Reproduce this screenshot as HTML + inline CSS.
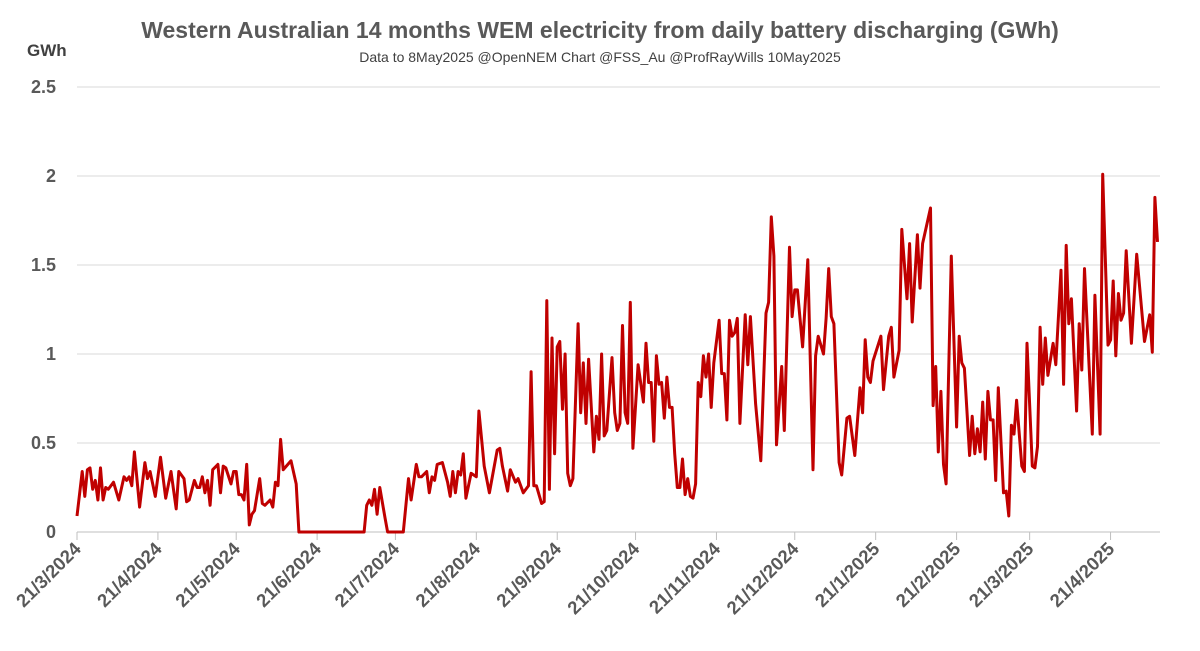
<!DOCTYPE html>
<html><head><meta charset="utf-8">
<style>
body{margin:0;background:#fff;width:1200px;height:646px;overflow:hidden;font-family:"Liberation Sans",sans-serif}
</style></head>
<body>
<svg width="1200" height="646" xmlns="http://www.w3.org/2000/svg">
<text x="600" y="38" text-anchor="middle" font-size="23" font-weight="bold" fill="#595959">Western Australian 14 months WEM electricity from daily battery discharging (GWh)</text>
<text x="600" y="62" text-anchor="middle" font-size="14" fill="#404040">Data to 8May2025  @OpenNEM Chart @FSS_Au @ProfRayWills 10May2025</text>
<text x="27" y="56" font-size="17" font-weight="bold" fill="#404040">GWh</text>
<g id="grid"></g><g id="yt"></g><g id="xt"></g><g id="ser"></g>
</svg>
<script>
const days=[0,2,3,4,5,6,7,8,9,10,11,12,14,16,18,19,20,21,22,24,26,27,28,30,32,34,36,38,39,41,42,43,45,46,47,48,49,50,51,52,54,55,56,57,59,60,61,62,63,64,65,66,67,68,70,71,72,74,75,76,77,78,79,82,84,85,110,111,112,113,114,115,116,118,119,125,127,128,130,131,132,134,135,136,137,138,140,142,143,144,145,146,147,148,149,151,153,154,156,158,161,162,163,165,166,168,169,171,173,174,175,176,178,179,180,181,182,183,184,185,186,187,188,189,190,192,193,194,195,196,198,199,200,201,202,203,205,206,207,208,209,210,211,212,213,215,217,218,219,220,221,222,223,224,225,226,227,228,229,230,231,232,233,234,235,236,237,238,239,240,241,242,243,244,246,247,248,249,250,251,252,253,254,256,257,258,260,262,264,265,266,267,268,270,271,273,274,275,276,278,280,282,283,284,286,287,288,289,290,292,293,295,296,298,300,301,302,303,304,305,308,309,311,312,313,315,316,318,319,320,322,323,324,327,328,329,330,331,332,333,335,337,338,339,340,342,343,344,345,346,347,348,349,350,351,352,353,355,356,357,358,359,360,362,363,364,366,367,368,369,370,371,372,374,375,377,378,379,380,381,383,384,385,386,389,390,392,393,395,396,397,398,399,400,401,402,404,406,409,411,412,413,414];
const values=[.09,.34,.20,.35,.36,.24,.29,.18,.36,.18,.25,.24,.28,.18,.31,.29,.31,.26,.45,.14,.39,.30,.34,.20,.42,.19,.34,.13,.34,.30,.17,.18,.29,.25,.25,.31,.22,.29,.15,.35,.38,.22,.37,.36,.27,.34,.34,.21,.21,.18,.38,.04,.10,.12,.30,.16,.15,.18,.14,.28,.26,.52,.35,.40,.27,0,0,.15,.18,.15,.24,.10,.25,.08,0,0,.30,.18,.38,.31,.31,.34,.22,.31,.29,.38,.39,.28,.20,.34,.22,.34,.32,.44,.19,.33,.31,.68,.37,.22,.46,.47,.37,.23,.35,.28,.30,.22,.26,.90,.26,.26,.16,.17,1.30,.24,1.09,.44,1.04,1.07,.69,1.00,.33,.26,.30,1.17,.67,.95,.61,.97,.45,.65,.52,1.00,.54,.57,.98,.67,.57,.61,1.16,.67,.61,1.29,.47,.94,.73,1.06,.84,.84,.51,.99,.83,.84,.64,.87,.70,.70,.44,.25,.25,.41,.21,.30,.20,.19,.27,.84,.76,.99,.87,1.00,.70,.95,1.19,.89,.89,.63,1.19,1.10,1.12,1.20,.61,1.22,.94,1.21,.72,.40,1.23,1.29,1.77,1.55,.49,.93,.57,1.60,1.21,1.36,1.36,1.04,1.53,.35,.99,1.10,1.00,1.20,1.48,1.21,1.17,.39,.32,.64,.65,.43,.81,.67,1.08,.87,.84,.96,1.10,.80,1.10,1.15,.87,1.02,1.70,1.31,1.62,1.18,1.67,1.37,1.62,1.82,.71,.93,.45,.79,.38,.27,1.55,.59,1.10,.95,.92,.43,.65,.44,.58,.45,.73,.41,.79,.63,.63,.29,.81,.22,.23,.09,.60,.55,.74,.37,.34,1.06,.37,.36,.48,1.15,.83,1.09,.88,1.06,.94,1.47,.83,1.61,1.17,1.31,.68,1.17,.91,1.48,.55,1.33,.55,2.01,1.05,1.08,1.41,.99,1.34,1.19,1.23,1.58,1.06,1.56,1.07,1.22,1.01,1.88,1.63];
const tickDays=[0,31,61,92,122,153,184,214,245,275,306,337,365,396];
const tickLabels=["21/3/2024","21/4/2024","21/5/2024","21/6/2024","21/7/2024","21/8/2024","21/9/2024","21/10/2024","21/11/2024","21/12/2024","21/1/2025","21/2/2025","21/3/2025","21/4/2025"];
const yTicks=[0,0.5,1,1.5,2,2.5];
const yLabels=["0","0.5","1","1.5","2","2.5"];
const NS="http://www.w3.org/2000/svg";
const X=d=>77+d*2.61, Y=v=>532-v*178;
function mk(t,a,p){const e=document.createElementNS(NS,t);for(const k in a)e.setAttribute(k,a[k]);p.appendChild(e);return e;}
const grid=document.getElementById('grid'),yt=document.getElementById('yt'),xt=document.getElementById('xt'),ser=document.getElementById('ser');
yTicks.forEach((v,i)=>{
 const l=mk('line',{x1:77,x2:1160,y1:Y(v),y2:Y(v),stroke:v===0?'#bfbfbf':'#d9d9d9','stroke-width':1},grid);
 
 
 const t=mk('text',{x:56,y:Y(v)+6,'text-anchor':'end','font-size':18,'font-weight':'bold',fill:'#595959'},yt);
 t.textContent=yLabels[i];
 
 
});
tickDays.forEach((d,i)=>{
 const x=X(d);
 const m=mk('line',{x1:x,x2:x,y1:532,y2:540,stroke:'#bfbfbf'},xt);
 
 
 const t=mk('text',{x:x+5,y:550,'text-anchor':'end','font-size':18.5,'font-weight':'bold',fill:'#595959',transform:`rotate(-45 ${x+5} 550)`},xt);
 t.textContent=tickLabels[i];
 
 
});
const pts=days.map((d,i)=>X(d).toFixed(1)+','+Y(values[i]).toFixed(1)).join(' ');
const pl=mk('polyline',{points:pts,fill:'none',stroke:'#c00000','stroke-width':3,'stroke-linejoin':'round'},ser);


</script>
</body></html>
